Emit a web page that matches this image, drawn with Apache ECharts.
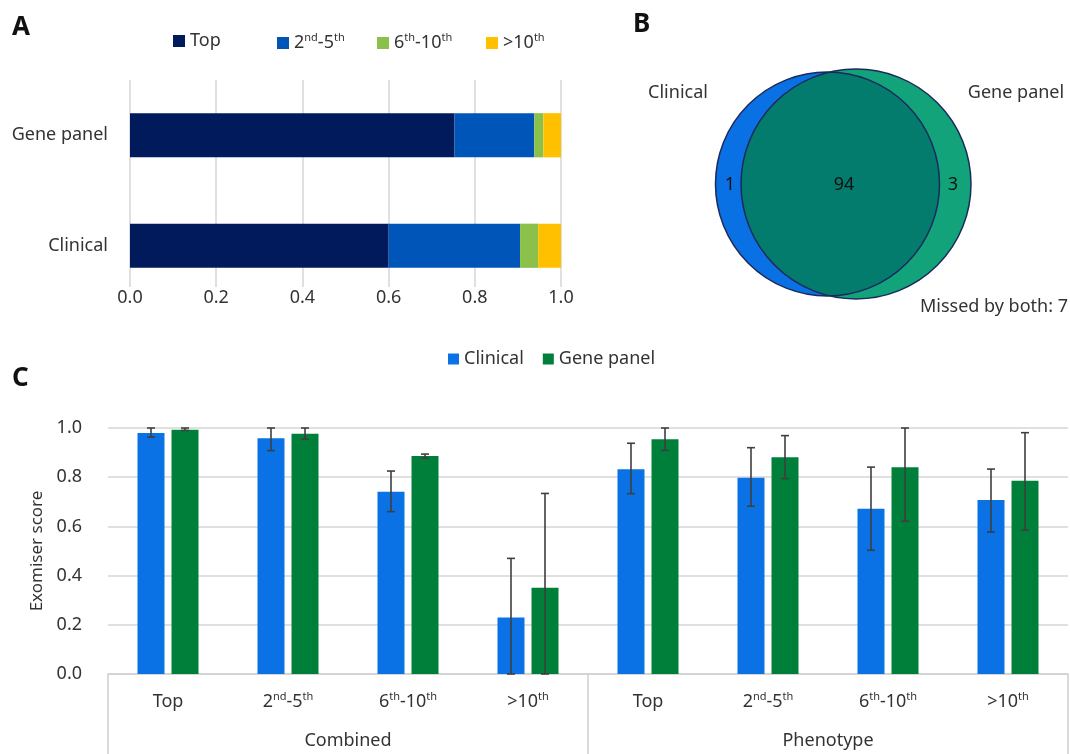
<!DOCTYPE html>
<html><head><meta charset="utf-8">
<script src="https://cdn.jsdelivr.net/npm/echarts@6/dist/echarts.min.js"></script>
<style>html,body{margin:0;padding:0;background:#fff}#c{width:1070px;height:754px}</style>
</head><body><div id="c"></div><script>
// ---------- Panel A data ----------
const rankNames = ['Top', '2nd-5th', '6th-10th', '>10th'];
const methodsA = ['Clinical', 'Gene panel'];
const rankTop = [0.600, 0.753];
const rank2to5 = [0.305, 0.185];
const rank6to10 = [0.042, 0.021];
const rankOver10 = [0.053, 0.041];
const axisAMax = 1.0;
const axisAStep = 0.2;

// ---------- Panel B data ----------
const vennSets = ['Clinical', 'Gene panel'];
const vennOnlyClinical = 1;
const vennBoth = 94;
const vennOnlyGene = 3;
const vennMissed = 7;

// ---------- Panel C data ----------
const catC = ['Top', '2nd-5th', '6th-10th', '>10th', 'Top', '2nd-5th', '6th-10th', '>10th'];
const groupC = ['Combined', 'Phenotype'];
const clinicalScore = [0.980, 0.958, 0.741, 0.230, 0.832, 0.798, 0.672, 0.707];
const clinicalLow   = [0.963, 0.908, 0.660, 0.000, 0.733, 0.682, 0.503, 0.577];
const clinicalHigh  = [1.000, 1.000, 0.825, 0.470, 0.938, 0.920, 0.841, 0.833];
const geneScore     = [0.993, 0.977, 0.886, 0.351, 0.954, 0.881, 0.840, 0.786];
const geneLow       = [0.990, 0.955, 0.877, 0.000, 0.909, 0.794, 0.621, 0.585];
const geneHigh      = [1.000, 1.000, 0.894, 0.734, 1.000, 0.969, 1.000, 0.981];

// ---------- styling ----------
const FONT = 'Noto Sans';
const TXT = '#333333';
const GRID_LINE = '#d6d6d6';
const rankColors = ['#001a5c', '#0055b8', '#8bc04a', '#ffc000'];
const cBlue = '#0a72e4';
const cGreen = '#007f3a';
const BAR_W = 0.225, BAR_GAP = 0.26;

function sup(s) {
  return s.split(/(st|nd|rd|th)/).filter(x => x.length).map(x =>
    /^(st|nd|rd|th)$/.test(x) ? '{s|' + x + '}' : '{b|' + x + '}').join('');
}
const richSup = {
  b: { fontSize: 18, lineHeight: 22, fontFamily: FONT, color: TXT, verticalAlign: 'middle' },
  s: { fontSize: 11, lineHeight: 12, fontFamily: FONT, color: TXT, verticalAlign: 'top' }
};

const chart = echarts.init(document.getElementById('c'), null, { renderer: 'canvas' });

const legendAX = [168, 272, 372, 481];
const legends = rankNames.map((n, i) => ({
  data: [n], left: legendAX[i], top: 27, icon: 'rect', itemWidth: 12, itemHeight: 12,
  itemGap: 5, selectedMode: false, formatter: sup,
  textStyle: { fontFamily: FONT, fontSize: 18, color: TXT, rich: richSup }
}));
legends.push({
  data: ['Clinical', 'Gene panel'], left: 443, top: 345, icon: 'rect', itemWidth: 11, itemHeight: 11,
  itemGap: 19, selectedMode: false,
  textStyle: { fontFamily: FONT, fontSize: 18, color: TXT }
});

function errorSeries(name, low, high, side) {
  return {
    name: name, type: 'custom', xAxisIndex: 2, yAxisIndex: 2, z: 5,
    encode: { x: 0, y: [1, 2] },
    data: low.map((v, i) => [i, v, high[i]]),
    renderItem: function (params, api) {
      const idx = api.value(0);
      const top = api.coord([idx, api.value(2)]);
      const bot = api.coord([idx, api.value(1)]);
      const band = api.size([1, 0])[0];
      const off = side * band * BAR_W * (1 + BAR_GAP) / 2;
      const x = top[0] + off;
      const st = { stroke: '#3f3f3f', lineWidth: 1.6 };
      const cap = 4;
      return {
        type: 'group', children: [
          { type: 'line', shape: { x1: x, y1: top[1], x2: x, y2: bot[1] }, style: st },
          { type: 'line', shape: { x1: x - cap, y1: top[1], x2: x + cap, y2: top[1] }, style: st },
          { type: 'line', shape: { x1: x - cap, y1: bot[1], x2: x + cap, y2: bot[1] }, style: st }
        ]
      };
    }
  };
}

// Venn circles in panel-B coordinates (x: 0..450, y: 0..330)
const vennLayout = [[207.5, 184, 112, 236, 184, 115]];

const option = {
  animation: false,
  backgroundColor: '#ffffff',
  textStyle: { fontFamily: FONT },
  legend: legends,
  grid: [
    { left: 130, top: 80, width: 431, height: 221, outerBoundsMode: 'none' },
    { left: 620, top: 0, width: 450, height: 330, outerBoundsMode: 'none' },
    { left: 108, top: 428, width: 960, height: 246, outerBoundsMode: 'none' },
    { left: 130, top: 80, width: 431, height: 207, outerBoundsMode: 'none' }
  ],
  xAxis: [
    { gridIndex: 0, type: 'value', min: 0, max: axisAMax, interval: axisAStep, show: false },
    { gridIndex: 1, type: 'value', min: 0, max: 450, show: false },
    {
      gridIndex: 2, type: 'category', data: catC, position: 'bottom',
      axisLine: { lineStyle: { color: '#d0d0d0', width: 1.5 } }, axisTick: { show: false },
      axisLabel: { interval: 0, margin: 17, formatter: sup, rich: richSup }
    },
    {
      gridIndex: 2, type: 'category', data: groupC, position: 'bottom',
      axisLine: { show: false },
      axisTick: { show: true, length: 80, lineStyle: { color: '#d0d0d0', width: 1.5 } },
      axisLabel: { interval: 0, margin: 58, fontSize: 18, color: TXT, fontFamily: FONT }
    },
    {
      gridIndex: 3, type: 'value', min: 0, max: axisAMax, interval: axisAStep,
      axisLine: { show: false }, axisTick: { show: false },
      splitLine: { lineStyle: { color: GRID_LINE, width: 1.5 } },
      axisLabel: { formatter: v => v.toFixed(1), fontSize: 18, color: TXT, margin: 2, fontFamily: FONT }
    }
  ],
  yAxis: [
    {
      gridIndex: 0, type: 'category', data: methodsA,
      axisLine: { show: false }, axisTick: { show: false },
      axisLabel: { fontSize: 18, color: TXT, margin: 22, fontFamily: FONT }
    },
    { gridIndex: 1, type: 'value', min: 0, max: 330, inverse: true, show: false },
    {
      gridIndex: 2, type: 'value', min: 0, max: 1, interval: 0.2,
      axisLine: { show: false }, axisTick: { show: false },
      splitLine: { lineStyle: { color: GRID_LINE, width: 1.5 } },
      axisLabel: { formatter: v => v.toFixed(1), fontSize: 18, color: TXT, margin: 26, fontFamily: FONT },
      name: 'Exomiser score', nameLocation: 'middle', nameGap: 60,
      nameTextStyle: { fontSize: 17, color: TXT, fontFamily: FONT }
    },
    { gridIndex: 3, type: 'category', data: methodsA, show: false }
  ],
  series: [
    { name: rankNames[0], type: 'bar', stack: 'a', xAxisIndex: 0, yAxisIndex: 0, barWidth: '40%', z: 3, data: rankTop, itemStyle: { color: rankColors[0] } },
    { name: rankNames[1], type: 'bar', stack: 'a', xAxisIndex: 0, yAxisIndex: 0, barWidth: '40%', z: 3, data: rank2to5, itemStyle: { color: rankColors[1] } },
    { name: rankNames[2], type: 'bar', stack: 'a', xAxisIndex: 0, yAxisIndex: 0, barWidth: '40%', z: 3, data: rank6to10, itemStyle: { color: rankColors[2] } },
    { name: rankNames[3], type: 'bar', stack: 'a', xAxisIndex: 0, yAxisIndex: 0, barWidth: '40%', z: 3, data: rankOver10, itemStyle: { color: rankColors[3] } },
    {
      name: 'venn', type: 'custom', xAxisIndex: 1, yAxisIndex: 1,
      encode: { x: [0, 3], y: [1, 4] },
      data: vennLayout,
      renderItem: function (params, api) {
        const c1 = api.coord([api.value(0), api.value(1)]);
        const r1 = api.size([api.value(2), 0])[0];
        const c2 = api.coord([api.value(3), api.value(4)]);
        const r2 = api.size([api.value(5), 0])[0];
        const d = c2[0] - c1[0];
        const a = (d * d + r1 * r1 - r2 * r2) / (2 * d);
        const h = Math.sqrt(r1 * r1 - a * a);
        const t1 = Math.atan2(h, a);
        const ph = Math.atan2(h, a - d);
        const pts = [];
        const N = 90;
        for (let i = 0; i <= N; i++) {
          const t = -t1 + (2 * t1) * i / N;
          pts.push([c1[0] + r1 * Math.cos(t), c1[1] + r1 * Math.sin(t)]);
        }
        for (let i = 0; i <= N; i++) {
          const t = ph + (2 * Math.PI - 2 * ph) * i / N;
          pts.push([c2[0] + r2 * Math.cos(t), c2[1] + r2 * Math.sin(t)]);
        }
        const stroke = '#1b2a5c';
        return {
          type: 'group', children: [
            { type: 'circle', shape: { cx: c1[0], cy: c1[1], r: r1 }, style: { fill: '#0a71e4' } },
            { type: 'circle', shape: { cx: c2[0], cy: c2[1], r: r2 }, style: { fill: '#12a37b' } },
            { type: 'polygon', shape: { points: pts }, style: { fill: '#037b6d' } },
            { type: 'circle', shape: { cx: c1[0], cy: c1[1], r: r1 }, style: { fill: 'none', stroke: stroke, lineWidth: 1.5 } },
            { type: 'circle', shape: { cx: c2[0], cy: c2[1], r: r2 }, style: { fill: 'none', stroke: stroke, lineWidth: 1.5 } }
          ]
        };
      }
    },
    { name: 'Clinical', type: 'bar', xAxisIndex: 2, yAxisIndex: 2, barWidth: (BAR_W * 100) + '%', barGap: (BAR_GAP * 100) + '%', data: clinicalScore, itemStyle: { color: cBlue } },
    { name: 'Gene panel', type: 'bar', xAxisIndex: 2, yAxisIndex: 2, barWidth: (BAR_W * 100) + '%', barGap: (BAR_GAP * 100) + '%', data: geneScore, itemStyle: { color: cGreen } },
    errorSeries('errClinical', clinicalLow, clinicalHigh, -1),
    errorSeries('errGene', geneLow, geneHigh, 1)
  ],
  graphic: [
    { type: 'text', left: 12, top: 15, style: { text: 'A', fontSize: 26, fontWeight: 'bold', fontFamily: FONT, fill: '#111' } },
    { type: 'text', left: 633, top: 12, style: { text: 'B', fontSize: 26, fontWeight: 'bold', fontFamily: FONT, fill: '#111' } },
    { type: 'text', left: 12, top: 366, style: { text: 'C', fontSize: 26, fontWeight: 'bold', fontFamily: FONT, fill: '#111' } },
    { type: 'text', x: 678, y: 93, style: { text: vennSets[0], fontSize: 18, fontFamily: FONT, fill: TXT, align: 'center', verticalAlign: 'middle' } },
    { type: 'text', x: 1016, y: 93, style: { text: vennSets[1], fontSize: 18, fontFamily: FONT, fill: TXT, align: 'center', verticalAlign: 'middle' } },
    { type: 'text', x: 730, y: 185, z: 10, style: { text: String(vennOnlyClinical), fontSize: 18, fontFamily: FONT, fill: '#111', align: 'center', verticalAlign: 'middle' } },
    { type: 'text', x: 844, y: 185, z: 10, style: { text: String(vennBoth), fontSize: 18, fontFamily: FONT, fill: '#111', align: 'center', verticalAlign: 'middle' } },
    { type: 'text', x: 953, y: 185, z: 10, style: { text: String(vennOnlyGene), fontSize: 18, fontFamily: FONT, fill: '#111', align: 'center', verticalAlign: 'middle' } },
    { type: 'text', x: 1068, y: 307, style: { text: 'Missed by both: ' + vennMissed, fontSize: 18, fontFamily: FONT, fill: TXT, align: 'right', verticalAlign: 'middle' } }
  ]
};
chart.setOption(option);
</script></body></html>
